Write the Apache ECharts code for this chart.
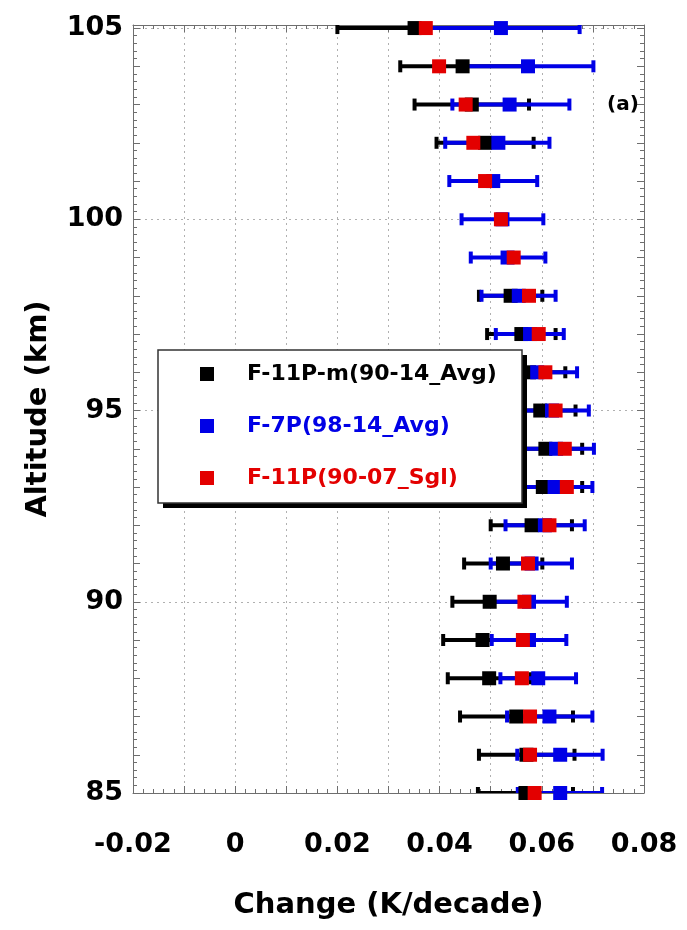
<!DOCTYPE html>
<html>
<head>
<meta charset="utf-8">
<script src="https://cdn.jsdelivr.net/npm/echarts@6/dist/echarts.min.js"></script>
<style>
  html, body { margin: 0; padding: 0; background: #fff; }
  #chart { width: 687px; height: 930px; }
</style>
</head>
<body>
<div id="chart"></div>
<script>
// Altitude levels (km), top to bottom
const altitudes = [105, 104, 103, 102, 101, 100, 99, 98, 97, 96, 95, 94, 93, 92, 91, 90, 89, 88, 87, 86, 85];

const seriesNames = ['F-11P-m(90-14_Avg)', 'F-7P(98-14_Avg)', 'F-11P(90-07_Sgl)'];

// F-11P-m (90-14 average): trend and error-bar bounds (K/decade)
const avgTrend = [0.0351, 0.0445, 0.0463, 0.0489, null, null, null, 0.0539, 0.0560, 0.0575, 0.0597,
                  0.0607, 0.0602, 0.0580, 0.0524, 0.0498, 0.0484, 0.0497, 0.0550, 0.0570, 0.0568];
const avgLow   = [0.0200, 0.0323, 0.0351, 0.0394, null, null, null, 0.0477, 0.0493, 0.0504, 0.0528,
                  0.0535, 0.0525, 0.0500, 0.0448, 0.0425, 0.0407, 0.0416, 0.0440, 0.0477, 0.0475];
const avgHigh  = [0.0520, 0.0567, 0.0575, 0.0584, null, null, null, 0.0601, 0.0627, 0.0646, 0.0666,
                  0.0679, 0.0679, 0.0659, 0.0601, 0.0571, 0.0561, 0.0578, 0.0661, 0.0664, 0.0661];

// F-7P (98-14 average)
const f7Trend = [0.0520, 0.0573, 0.0537, 0.0515, 0.0505, 0.0523, 0.0533, 0.0555, 0.0577, 0.0591, 0.0620,
                 0.0628, 0.0625, 0.0606, 0.0580, 0.0575, 0.0575, 0.0593, 0.0615, 0.0636, 0.0636];
const f7Low   = [0.0370, 0.0445, 0.0425, 0.0411, 0.0419, 0.0443, 0.0461, 0.0482, 0.0510, 0.0513, 0.0548,
                 0.0558, 0.0551, 0.0529, 0.0500, 0.0501, 0.0502, 0.0519, 0.0532, 0.0552, 0.0553];
const f7High  = [0.0674, 0.0701, 0.0654, 0.0615, 0.0591, 0.0603, 0.0607, 0.0627, 0.0643, 0.0669, 0.0692,
                 0.0702, 0.0699, 0.0684, 0.0659, 0.0649, 0.0648, 0.0667, 0.0699, 0.0719, 0.0718];

// F-11P (90-07 single station)
const sglTrend = [0.0373, 0.0399, 0.0451, 0.0466, 0.0489, 0.0520, 0.0545, 0.0575, 0.0594, 0.0607, 0.0627,
                  0.0645, 0.0649, 0.0615, 0.0573, 0.0566, 0.0563, 0.0561, 0.0577, 0.0577, 0.0586];

const xTicks = [-0.02, 0, 0.02, 0.04, 0.06, 0.08];
const yTicks = [85, 90, 95, 100, 105];

const colors = ['#000000', '#0000e6', '#e30000'];
const FONT = 'DejaVu Sans';

function rows(center, low, high) {
  const out = [];
  altitudes.forEach((alt, i) => {
    if (center[i] == null) return;
    out.push(low ? [alt, center[i], low[i], high[i]] : [alt, center[i]]);
  });
  return out;
}

// Horizontal error bar with end caps (clipped to the plot frame)
function barRenderer(color, k) {
  return function (params, api) {
    const alt = api.value(0);
    const lo = api.coord([api.value(2), alt]);
    const hi = api.coord([api.value(3), alt]);
    const children = [{
      type: 'line', z2: 10 + k,
      shape: { x1: lo[0], y1: lo[1], x2: hi[0], y2: hi[1] },
      style: { stroke: color, lineWidth: 4 }
    }];
    [lo, hi].forEach(p => children.push({
      type: 'rect', z2: 10 + k,
      shape: { x: p[0] - 2, y: p[1] - 6, width: 4, height: 12 },
      style: { fill: color }
    }));
    return { type: 'group', children };
  };
}

// Square marker at the trend value
function markerRenderer(color, k) {
  return function (params, api) {
    const c = api.coord([api.value(1), api.value(0)]);
    return {
      type: 'rect', z2: 100 + k,
      shape: { x: c[0] - 7, y: c[1] - 7, width: 14, height: 14 },
      style: { fill: color }
    };
  };
}

const frameColor = '#6e6e6e';
const gridDash = { color: '#b0b0b0', type: [2, 4], width: 1 };
const tickLabelStyle = { fontFamily: FONT, fontWeight: 'bold', fontSize: 27, color: '#000' };
const titleStyle = { fontFamily: FONT, fontWeight: 'bold', fontSize: 29, color: '#000' };

function frameAxis(extra) {
  return Object.assign({
    type: 'value',
    axisLine: { show: true, onZero: false, lineStyle: { color: frameColor, width: 1 } },
    axisTick: { show: true, inside: true, length: 7, lineStyle: { color: frameColor } },
    minorTick: { show: true, splitNumber: 5, length: 4, lineStyle: { color: frameColor } },
    splitLine: { show: false },
    axisLabel: { show: false }
  }, extra);
}

const series = [];
[[avgTrend, avgLow, avgHigh], [f7Trend, f7Low, f7High]].forEach((s, k) => {
  series.push({
    name: seriesNames[k], type: 'custom', xAxisIndex: 0, yAxisIndex: 0,
    itemStyle: { color: colors[k] },
    renderItem: barRenderer(colors[k], k),
    encode: { x: [1, 2, 3], y: 0 },
    data: rows(s[0], s[1], s[2]), clip: true
  });
});
[avgTrend, f7Trend, sglTrend].forEach((s, k) => {
  series.push({
    name: seriesNames[k], type: 'custom', xAxisIndex: 0, yAxisIndex: 0,
    itemStyle: { color: colors[k] },
    renderItem: markerRenderer(colors[k], k),
    encode: { x: 1, y: 0 },
    data: rows(s), clip: false
  });
});

// Legend frame with its drop shadow
const legendBox = { x: 158, y: 350, w: 364, h: 153 };

const chart = echarts.init(document.getElementById('chart'));
chart.setOption({
  animation: false,
  backgroundColor: '#fff',
  grid: { left: 133, right: 43, top: 25, bottom: 137, containLabel: false },
  xAxis: [
    frameAxis({
      position: 'bottom', min: xTicks[0], max: xTicks[xTicks.length - 1], interval: 0.01,
      splitLine: { show: true, lineStyle: gridDash },
      axisLabel: {
        show: true, margin: 38, ...tickLabelStyle,
        formatter: v => {
          const hit = xTicks.find(t => Math.abs(t - v) < 1e-9);
          return hit === undefined ? '' : String(hit);
        }
      },
      name: 'Change (K/decade)', nameLocation: 'middle', nameGap: 98,
      nameTextStyle: titleStyle
    }),
    frameAxis({ position: 'top', min: xTicks[0], max: xTicks[xTicks.length - 1], interval: 0.01 })
  ],
  yAxis: [
    frameAxis({
      position: 'left', min: 85, max: 105.08, interval: 1,
      axisLabel: {
        show: true, margin: 10, ...tickLabelStyle,
        formatter: v => (yTicks.indexOf(v) >= 0 ? String(v) : '')
      },
      name: 'Altitude (km)', nameLocation: 'middle', nameGap: 80, nameRotate: 90,
      nameTextStyle: titleStyle
    }),
    {
      type: 'value', position: 'left', min: 85, max: 105.08, interval: 5,
      axisLine: { show: false, onZero: false }, axisTick: { show: false }, axisLabel: { show: false },
      splitLine: { show: true, lineStyle: gridDash }
    },
    frameAxis({ position: 'right', min: 85, max: 105.08, interval: 1 })
  ],
  legend: {
    orient: 'vertical', left: 200, top: 363, z: 20,
    padding: 0, itemWidth: 14, itemHeight: 14, itemGap: 30,
    icon: 'rect',
    textStyle: { fontFamily: FONT, fontWeight: 'bold', fontSize: 22, padding: [0, 0, 0, 28] },
    data: seriesNames.map((n, i) => ({ name: n, textStyle: { color: colors[i] } })),
    selectedMode: false
  },
  graphic: [
    {
      type: 'rect', z: 10, silent: true,
      shape: { x: legendBox.x + 5, y: legendBox.y + 5, width: legendBox.w, height: legendBox.h },
      style: { fill: '#000' }
    },
    {
      type: 'rect', z: 11, silent: true,
      shape: { x: legendBox.x, y: legendBox.y, width: legendBox.w, height: legendBox.h },
      style: { fill: '#fff', stroke: '#333', lineWidth: 1.5 }
    },
    {
      type: 'text', left: 607, top: 95, z: 20,
      style: { text: '(a)', fontFamily: FONT, fontWeight: 'bold', fontSize: 20, fill: '#000' }
    }
  ],
  series: series
});
</script>
</body>
</html>
